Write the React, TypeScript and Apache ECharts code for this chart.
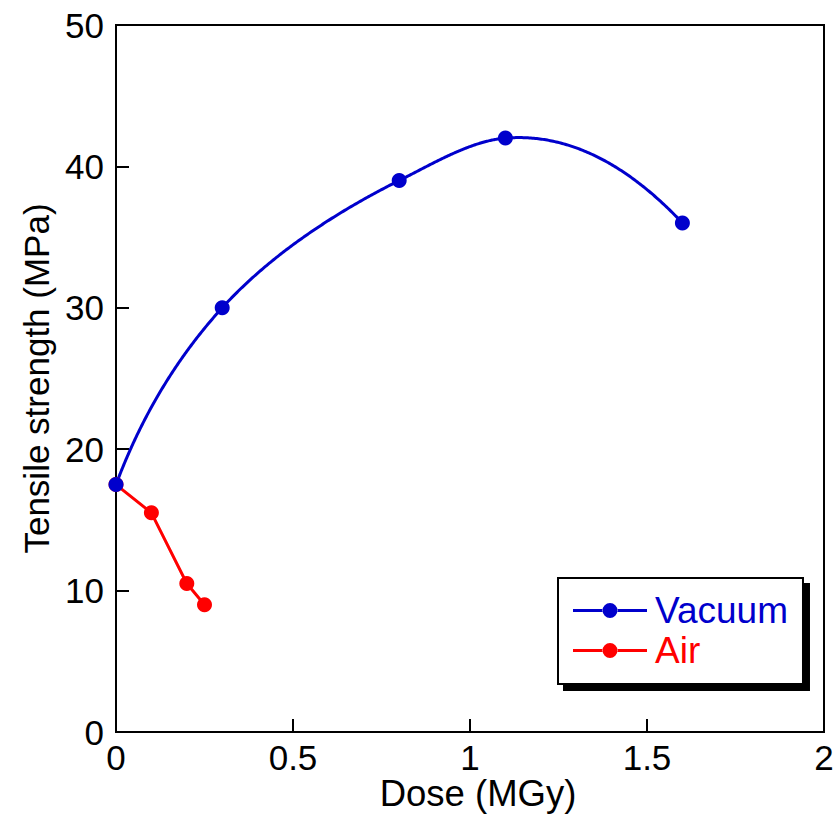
import React, { useEffect, useRef } from "react";
import * as echarts from "echarts";

// Tensile strength vs. absorbed dose, irradiated in vacuum and in air
const vacuumDose = [0, 0.3, 0.8, 1.1, 1.6];
const vacuumStrength = [17.5, 30, 39, 42, 36];
const airDose = [0, 0.1, 0.2, 0.25];
const airStrength = [17.5, 15.5, 10.5, 9];
const xTicks = [0, 0.5, 1, 1.5, 2];
const yTicks = [0, 10, 20, 30, 40, 50];

const FONT = "'Liberation Sans', Arial, Helvetica, sans-serif";
const BLUE = "#0000cc";
const RED = "#ff0000";

// Smooth curve through screen points: cubic Hermite segments with
// chord-length parameterisation and three-point (Bessel) tangents.
function smoothCurve(pts: number[][], stepsPerSegment: number): number[][] {
  const n = pts.length;
  if (n < 3) return pts;
  const d: number[] = [];
  const u: number[][] = [];
  for (let i = 0; i < n - 1; i++) {
    const dx = pts[i + 1][0] - pts[i][0];
    const dy = pts[i + 1][1] - pts[i][1];
    const len = Math.hypot(dx, dy) || 1;
    d.push(len);
    u.push([dx / len, dy / len]);
  }
  const m: number[][] = new Array(n);
  for (let i = 1; i < n - 1; i++) {
    const wa = d[i] / (d[i - 1] + d[i]);
    const wb = d[i - 1] / (d[i - 1] + d[i]);
    m[i] = [wa * u[i - 1][0] + wb * u[i][0], wa * u[i - 1][1] + wb * u[i][1]];
  }
  m[0] = [2 * u[0][0] - m[1][0], 2 * u[0][1] - m[1][1]];
  m[n - 1] = [2 * u[n - 2][0] - m[n - 2][0], 2 * u[n - 2][1] - m[n - 2][1]];

  const out: number[][] = [pts[0]];
  for (let i = 0; i < n - 1; i++) {
    const p0 = pts[i], p1 = pts[i + 1], h = d[i];
    for (let k = 1; k <= stepsPerSegment; k++) {
      const s = k / stepsPerSegment;
      const s2 = s * s, s3 = s2 * s;
      const h00 = 2 * s3 - 3 * s2 + 1;
      const h10 = s3 - 2 * s2 + s;
      const h01 = -2 * s3 + 3 * s2;
      const h11 = s3 - s2;
      out.push([
        h00 * p0[0] + h10 * h * m[i][0] + h01 * p1[0] + h11 * h * m[i + 1][0],
        h00 * p0[1] + h10 * h * m[i][1] + h01 * p1[1] + h11 * h * m[i + 1][1],
      ]);
    }
  }
  return out;
}

// Legend glyph: a line with a dot in the middle, in a 74 x 16 box
const LEGEND_ICON =
  "path://M0,6.6H30V9.4H0Z M44,6.6H74V9.4H44Z M29.5,8A7.5,7.5 0 1 0 44.5,8A7.5,7.5 0 1 0 29.5,8Z";

export default function App() {
  const ref = useRef<HTMLDivElement>(null);

  useEffect(() => {
    if (!ref.current) return;
    const chart = echarts.init(ref.current, null, { renderer: "svg" });

    const option: any = {
      animation: false,
      backgroundColor: "#ffffff",
      textStyle: { fontFamily: FONT },
      grid: {
        left: 116,
        right: 9,
        top: 25,
        bottom: 82,
        outerBoundsMode: "none",
        containLabel: false,
        show: true,
        borderColor: "#000",
        borderWidth: 2,
        backgroundColor: "transparent",
      },
      xAxis: {
        type: "value",
        min: xTicks[0],
        max: xTicks[xTicks.length - 1],
        interval: 0.5,
        name: "Dose (MGy)",
        nameLocation: "middle",
        nameGap: 45,
        nameMoveOverlap: false,
        nameTextStyle: {
          fontSize: 36.5,
          lineHeight: 32,
          color: "#000",
          fontFamily: FONT,
          padding: [0, 0, 0, 16],
        },
        axisLine: { show: true, lineStyle: { color: "#000", width: 2 } },
        axisTick: { show: true, inside: true, length: 13, lineStyle: { color: "#000", width: 2 } },
        axisLabel: { fontSize: 35, lineHeight: 30, color: "#000", fontFamily: FONT, margin: 10 },
        splitLine: { show: false },
      },
      yAxis: {
        type: "value",
        min: yTicks[0],
        max: yTicks[yTicks.length - 1],
        interval: 10,
        name: "Tensile strength (MPa)",
        nameLocation: "middle",
        nameGap: 62,
        nameMoveOverlap: false,
        nameTextStyle: { fontSize: 35, color: "#000", fontFamily: FONT },
        axisLine: { show: true, lineStyle: { color: "#000", width: 2 } },
        axisTick: { show: true, inside: true, length: 13, lineStyle: { color: "#000", width: 2 } },
        axisLabel: { fontSize: 35, color: "#000", fontFamily: FONT, margin: 12 },
        splitLine: { show: false },
      },
      legend: {
        orient: "vertical",
        left: 558,
        top: 578,
        padding: [14, 15, 15, 15],
        itemWidth: 74,
        itemHeight: 16,
        itemGap: 3,
        backgroundColor: "#ffffff",
        borderColor: "#000",
        borderWidth: 2,
        borderRadius: 0,
        shadowColor: "#000",
        shadowBlur: 0,
        shadowOffsetX: 6,
        shadowOffsetY: 6,
        selectedMode: false,
        textStyle: { fontSize: 37, fontFamily: FONT, padding: [0, 0, 0, 3] },
        data: [
          { name: "Vacuum", icon: LEGEND_ICON, itemStyle: { color: BLUE }, textStyle: { color: BLUE } },
          { name: "Air", icon: LEGEND_ICON, itemStyle: { color: RED }, textStyle: { color: RED } },
        ],
      },
      series: [
        {
          // smooth curve through the vacuum measurements
          type: "custom",
          name: "vacuum-fit",
          coordinateSystem: "cartesian2d",
          z: 1,
          silent: true,
          data: [[vacuumDose[0], vacuumStrength[0]]],
          renderItem: (_params: any, api: any) => {
            const screen = vacuumDose.map((x, i) => api.coord([x, vacuumStrength[i]]));
            return {
              type: "polyline",
              shape: { points: smoothCurve(screen, 120) },
              style: { stroke: BLUE, lineWidth: 3, fill: null },
            };
          },
        },
        {
          type: "line",
          name: "Vacuum",
          z: 3,
          data: vacuumDose.map((x, i) => [x, vacuumStrength[i]]),
          symbol: "circle",
          symbolSize: 15,
          showSymbol: true,
          itemStyle: { color: BLUE },
          lineStyle: { width: 0, opacity: 0 },
        },
        {
          type: "line",
          name: "Air",
          z: 2,
          data: airDose.map((x, i) => [x, airStrength[i]]),
          symbol: "circle",
          symbolSize: 15,
          showSymbol: true,
          itemStyle: { color: RED },
          lineStyle: { color: RED, width: 3 },
        },
      ],
    };

    chart.setOption(option);
    return () => chart.dispose();
  }, []);

  return (
    <div
      ref={ref}
      style={{ position: "fixed", left: 0, top: 0, width: 833, height: 814, background: "#fff" }}
    />
  );
}
